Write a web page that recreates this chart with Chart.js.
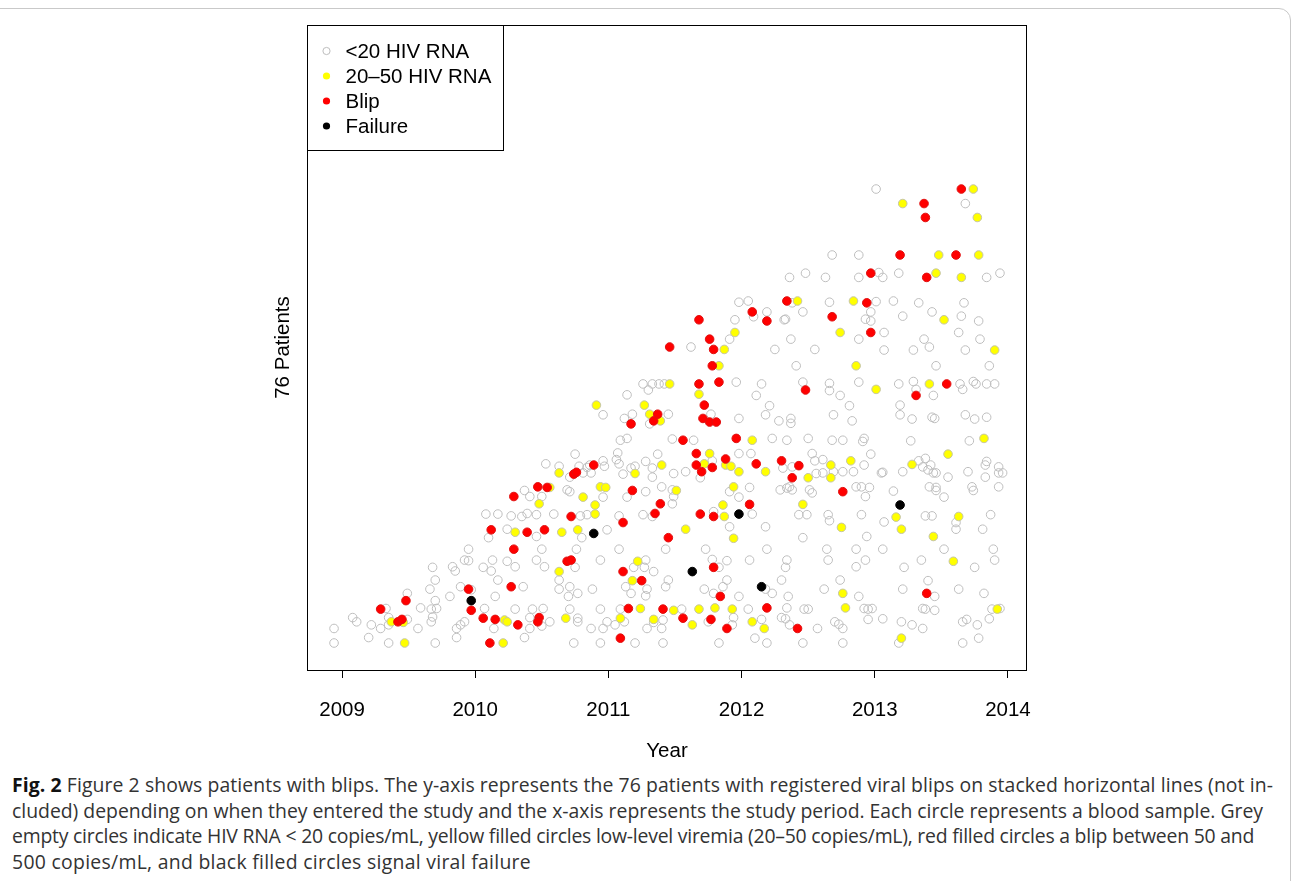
<!DOCTYPE html>
<html>
<head>
<meta charset="utf-8">
<script src="https://cdn.jsdelivr.net/npm/chart.js@4.4.1/dist/chart.umd.min.js"></script>
<style>
  html, body { margin:0; padding:0; background:#fff; }
  body { width:1292px; height:881px; overflow:hidden; position:relative; }
  #frame { position:absolute; left:-14px; top:8px; width:1305px; height:900px; border:1px solid #c9c9c9; border-radius:12px; box-sizing:border-box; }
  #wrap { position:absolute; left:0; top:0; width:1292px; height:770px; }
  #cap { position:absolute; left:12px; top:772px; font-family:"Open Sans", sans-serif; font-size:19.4px; line-height:25.7px; color:#333; white-space:nowrap; }
  #cap span { display:inline-block; }
  #cap b { color:#111; }
</style>
</head>
<body>
<div id="frame"></div>
<div id="wrap"><canvas id="c" width="1292" height="770"></canvas></div>
<div id="cap">
<div><span data-w="1261"><b>Fig. 2</b> Figure 2 shows patients with blips. The y-axis represents the 76 patients with registered viral blips on stacked horizontal lines (not in-</span></div>
<div><span data-w="1251">cluded) depending on when they entered the study and the x-axis represents the study period. Each circle represents a blood sample. Grey</span></div>
<div><span data-w="1242">empty circles indicate HIV RNA &lt; 20 copies/mL, yellow filled circles low-level viremia (20–50 copies/mL), red filled circles a blip between 50 and</span></div>
<div><span data-w="519">500 copies/mL, and black filled circles signal viral failure</span></div>
</div>
<script>
// x = calendar year (decimal), y = patient line (1 = first entered, 76 = last)
const tickYears = [2009, 2010, 2011, 2012, 2013, 2014];

const below20 = [
[2010.08,22.3],[2010.17,22.3],[2010.10,18.4],[2009.95,16.5],[2009.92,14.7],[2009.95,14.6],[2010.13,14.7],[2010.06,13.5],[2010.12,12.9],[2010.17,11.4],
[2009.68,13.5],[2009.83,13.6],[2009.85,12.9],[2009.70,11.4],[2009.66,9.9],[2009.49,9.2],[2009.70,8.0],[2009.81,8.7],[2009.89,10.3],[2009.97,9.8],
[2010.15,8.7],[2010.07,6.7],[2010.14,3.4],[2009.59,6.8],[2009.67,6.6],[2009.71,6.7],[2009.68,5.3],[2009.67,4.5],[2009.33,6.7],[2009.08,5.2],
[2009.11,4.5],[2008.94,3.4],[2008.94,1.0],[2009.20,1.9],[2009.22,4.0],[2009.29,3.4],[2009.35,5.2],[2009.35,4.0],[2009.49,4.9],[2009.57,3.4],
[2009.35,1.0],[2009.70,1.0],[2009.86,1.9],[2009.86,3.4],[2009.89,4.0],[2009.92,4.5],
[2010.24,19.8],[2010.46,18.6],[2010.80,18.4],[2010.99,19.7],[2010.50,16.5],[2010.76,16.5],[2011.08,16.5],[2011.43,16.5],[2010.24,14.5],[2010.30,13.6],
[2010.46,14.7],[2010.52,13.6],[2010.75,13.5],[2010.94,14.7],[2011.28,14.7],[2011.27,13.5],[2011.34,12.8],[2011.19,13.5],[2011.13,10.3],[2011.17,9.2],
[2011.29,9.9],[2011.28,8.8],[2011.45,11.4],[2011.43,10.3],[2010.63,11.4],[2010.63,9.9],[2010.71,10.3],[2010.70,8.7],[2010.77,9.2],[2010.88,9.9],
[2010.36,10.3],[2010.30,6.6],[2010.43,6.6],[2010.51,6.7],[2010.41,5.2],[2010.56,4.5],[2010.41,3.4],[2010.50,3.8],[2010.37,1.9],[2010.71,6.6],
[2010.77,5.1],[2010.77,4.5],[2010.74,1.0],[2010.87,3.4],[2010.94,6.6],[2010.96,3.4],[2010.99,4.5],[2011.05,4.0],[2010.94,1.0],[2011.09,6.6],
[2011.12,4.5],[2011.20,1.0],[2011.29,3.4],[2011.34,4.4],[2011.40,3.4],[2011.41,4.8],[2011.41,1.0],
[2011.26,43.8],[2011.33,43.8],[2011.38,43.8],[2011.42,43.8],[2011.30,42.8],[2011.14,42.0],[2010.96,38.7],[2011.45,38.8],[2011.12,38.1],[2011.18,38.8],
[2011.31,37.2],[2011.09,34.5],[2011.14,34.8],[2011.48,34.7],[2010.75,32.2],[2011.07,32.4],[2011.06,31.3],[2011.08,30.6],[2011.37,32.2],[2010.53,30.6],
[2010.63,30.2],[2010.78,30.2],[2010.84,30.0],[2010.86,30.4],[2010.96,31.1],[2010.97,30.2],[2010.81,29.1],[2010.87,29.1],[2010.71,28.4],[2011.11,28.9],
[2011.17,29.9],[2011.20,30.2],[2011.28,31.0],[2011.33,29.9],[2011.33,28.4],[2011.49,29.0],[2011.40,26.8],[2011.48,26.3],[2011.49,25.2],[2011.28,26.0],
[2011.14,25.1],[2010.27,22.0],[2010.35,21.9],[2010.39,22.4],[2010.46,22.2],[2010.59,22.3],[2010.79,22.0],[2010.84,22.2],[2011.08,22.0],[2011.26,22.2],
[2011.33,21.9],[2011.48,24.0],[2010.37,26.2],[2010.41,25.2],[2010.50,25.2],[2010.69,26.3],[2010.71,26.0],[2010.96,25.1],
[2012.68,65.1],[2012.88,65.1],[2012.36,61.4],[2012.48,62.1],[2012.63,61.4],[2012.88,61.4],[2011.98,57.3],[2012.05,57.5],[2012.38,57.2],[2012.66,57.3],
[2012.09,54.9],[2012.19,55.7],[2012.46,55.7],[2011.95,54.4],[2012.32,54.4],[2012.33,54.5],[2011.91,51.2],[2012.37,51.2],[2012.88,51.2],[2011.62,49.9],
[2012.25,49.5],[2012.55,49.5],[2012.41,46.8],[2011.96,44.1],[2012.15,43.8],[2012.46,44.1],[2012.66,43.9],[2012.88,44.1],
[2012.11,41.9],[2012.66,42.7],[2012.74,41.9],[2012.81,40.2],[2012.21,40.2],[2012.18,38.7],[2012.28,37.7],[2012.37,38.1],[2012.37,37.3],[2012.69,38.7],
[2012.83,37.7],[2011.77,38.8],[2011.98,38.1],[2011.64,34.5],[2012.23,34.8],[2012.34,34.5],[2012.50,34.8],[2012.68,34.5],[2012.76,34.5],[2011.98,32.3],
[2012.07,32.3],[2011.78,31.1],[2011.58,29.3],[2011.69,28.3],[2012.31,29.9],[2012.38,30.1],[2012.53,32.3],[2012.55,31.1],[2012.61,31.3],[2012.56,29.0],
[2012.61,29.1],[2012.69,29.3],[2012.76,29.3],[2012.84,29.3],[2011.91,26.0],[2011.98,25.1],[2012.06,26.7],[2011.79,22.7],[2012.08,22.3],[2011.91,20.2],
[2012.18,20.2],[2012.29,26.3],[2012.34,26.6],[2012.36,26.8],[2012.38,26.3],[2012.51,26.3],[2012.53,25.8],[2012.86,26.8],[2012.43,22.2],[2012.49,22.2],
[2012.65,22.2],[2012.66,21.2],
[2012.46,18.4],[2011.73,16.5],[2012.19,16.5],[2012.64,16.5],[2012.65,14.7],[2012.86,16.5],[2011.78,14.8],[2011.89,14.6],[2011.83,13.5],[2012.06,14.7],
[2012.34,14.7],[2012.33,13.5],[2012.86,13.6],[2011.89,11.4],[2011.86,10.3],[2011.79,9.2],[2011.72,9.9],[2012.18,9.9],[2012.23,9.2],[2012.30,11.4],
[2012.35,8.7],[2012.62,9.9],[2012.74,11.4],[2012.88,8.7],[2011.98,8.7],[2012.05,6.6],[2012.34,6.8],[2012.47,6.6],[2012.50,6.6],[2011.55,6.6],
[2011.75,4.5],[2011.94,5.2],[2011.93,4.0],[2012.15,4.9],[2012.30,5.2],[2012.33,5.0],[2012.36,4.0],[2012.57,3.4],[2012.70,4.5],[2012.73,4.1],
[2012.76,3.4],[2012.10,1.8],[2011.83,1.0],[2012.19,1.0],[2012.46,1.0],[2012.76,1.0],
[2013.01,76.0],[2013.68,73.6],[2013.03,62.2],[2013.06,61.4],[2013.18,62.1],[2013.84,61.4],[2013.94,62.1],
[2013.01,57.4],[2013.14,57.5],[2013.33,57.2],[2013.67,57.2],[2012.97,55.7],[2012.93,54.5],[2012.97,54.2],[2013.21,55.0],[2013.43,55.7],[2013.65,55.0],
[2013.78,54.2],[2013.07,52.3],[2013.37,51.2],[2013.41,49.9],[2013.29,49.4],[2013.07,49.4],[2013.63,52.3],[2013.79,51.2],[2013.68,49.4],[2013.46,46.8],
[2013.86,46.8],[2013.18,43.8],[2013.29,44.2],[2013.31,42.9],[2013.44,41.9],[2013.64,43.8],[2013.66,42.9],[2013.74,44.2],[2013.76,43.8],[2013.84,43.8],
[2013.90,43.8],[2013.19,40.3],[2013.19,38.7],[2013.28,38.0],[2013.43,38.3],[2013.45,38.1],[2013.68,38.7],[2013.75,38.0],[2013.84,38.3],
[2012.92,34.8],[2012.91,34.3],[2013.27,34.4],[2013.71,34.4],[2012.97,32.2],[2012.92,30.4],[2013.33,31.1],[2013.38,31.5],[2013.36,30.1],[2013.42,30.4],
[2013.40,29.6],[2013.44,29.1],[2013.46,29.1],[2013.05,29.1],[2013.06,29.2],[2013.21,29.3],[2013.55,28.4],[2013.70,29.3],[2013.84,31.0],[2013.83,30.4],
[2013.83,28.4],[2013.93,30.1],[2013.93,29.1],[2013.96,29.1],[2012.90,26.8],[2012.96,26.7],[2012.93,25.2],[2013.14,26.1],[2013.41,26.8],[2013.46,26.7],
[2013.46,26.2],[2013.52,25.1],[2013.73,26.8],[2013.74,26.2],[2013.93,26.8],[2013.07,21.0],[2013.38,22.0],[2013.43,22.0],[2013.61,20.9],[2013.61,19.8],
[2013.87,22.2],[2013.81,19.8],[2012.90,22.2],[2012.94,18.6],
[2013.06,16.5],[2013.52,16.5],[2013.89,16.5],[2013.35,14.7],[2012.93,14.7],[2013.22,13.5],[2013.75,13.5],[2013.90,14.7],[2013.40,11.3],[2013.21,9.9],
[2013.45,8.7],[2013.63,9.9],[2013.82,9.2],[2012.92,6.7],[2012.95,6.6],[2012.98,6.7],[2013.36,6.7],[2013.38,6.6],[2013.45,6.4],[2013.88,6.6],
[2013.94,6.7],[2012.95,4.9],[2013.06,5.0],[2013.20,4.5],[2013.28,4.0],[2013.36,3.4],[2013.66,4.5],[2013.69,4.9],[2013.77,4.0],[2013.86,5.0],
[2013.78,1.8],[2013.18,1.0],[2013.66,1.0]
];

const lowLevel = [
[2009.37,4.5],[2009.46,4.4],[2009.47,1.0],[2010.30,19.3],[2010.65,19.3],[2010.77,19.7],[2010.63,12.8],[2011.22,14.5],[2011.18,11.3],[2010.22,4.8],
[2010.24,4.5],[2010.21,1.0],[2010.68,5.1],[2011.09,5.1],[2011.24,6.7],[2011.34,4.9],[2011.49,6.4],[2011.46,43.8],[2010.91,40.3],[2011.27,40.3],
[2011.31,38.8],[2011.39,37.7],[2010.63,29.1],[2011.20,29.0],[2011.40,30.4],[2011.51,26.2],[2010.56,26.7],[2010.48,24.0],[2010.81,25.1],[2010.94,26.8],
[2010.98,26.7],[2010.90,23.8],[2010.90,22.3],[2012.42,57.5],[2012.84,57.5],[2011.95,52.3],[2012.74,52.3],[2011.87,49.5],[2011.83,46.8],[2012.86,46.8],
[2011.68,42.1],[2012.08,34.5],[2011.76,32.3],[2011.72,30.6],[2011.88,30.4],[2011.92,30.2],[2011.98,29.3],[2012.18,29.3],[2012.50,28.3],[2012.67,30.4],
[2012.67,28.3],[2012.82,31.1],[2011.94,26.8],[2011.86,23.8],[2011.87,21.9],[2012.46,23.9],[2012.75,20.1],[2011.58,19.8],[2011.94,18.3],[2012.76,9.2],
[2011.68,6.6],[2011.80,6.8],[2011.93,6.6],[2012.78,6.8],[2011.63,4.0],[2012.08,4.5],[2012.17,3.4],[2013.74,76.0],[2013.21,73.6],[2013.77,71.3],
[2013.48,65.1],[2013.78,65.1],[2013.46,62.1],[2013.65,61.4],[2013.52,54.4],[2013.90,49.4],[2013.01,42.9],[2013.41,43.8],[2013.82,34.8],[2013.55,32.2],
[2013.28,30.5],[2013.16,21.8],[2013.20,19.8],[2013.63,21.9],[2013.44,18.6],[2013.59,14.5],[2013.92,6.6],[2013.20,1.8]
];

const blips = [
[2010.12,19.7],[2009.48,8.0],[2009.95,9.9],[2009.97,6.4],[2010.06,5.1],[2010.15,4.9],[2009.29,6.6],[2009.42,4.5],[2009.45,4.9],[2010.11,1.0],
[2010.39,19.3],[2010.52,19.7],[2011.11,20.9],[2011.45,18.4],[2010.29,16.5],[2010.69,14.5],[2010.72,14.7],[2011.11,12.8],[2011.25,11.3],[2010.27,10.3],
[2010.48,5.2],[2010.47,4.5],[2010.32,4.0],[2011.09,1.8],[2011.15,6.7],[2011.41,6.6],[2011.37,38.8],[2011.34,37.7],[2011.17,37.2],[2010.89,30.4],
[2010.74,28.9],[2010.76,29.2],[2011.18,26.2],[2010.72,21.9],[2011.35,22.4],[2011.39,24.0],[2010.29,25.2],[2010.47,26.8],[2010.54,26.7],[2011.46,49.9],
[2012.34,57.5],[2012.08,55.7],[2012.68,54.9],[2011.68,54.4],[2012.19,54.2],[2011.76,51.2],[2011.79,49.5],[2011.78,46.8],[2011.68,43.8],[2011.83,44.1],
[2012.48,42.8],[2011.72,40.3],[2011.71,38.1],[2011.76,37.5],[2011.81,37.5],[2011.56,34.5],[2011.96,34.8],[2011.66,32.3],[2011.66,30.4],[2011.70,29.3],
[2011.78,30.0],[2011.88,31.4],[2012.11,30.6],[2012.30,31.1],[2012.43,30.3],[2012.38,28.3],[2012.76,26.0],[2012.06,23.9],[2011.69,22.3],[2011.79,21.9],
[2011.79,13.5],[2011.84,8.7],[2012.19,6.8],[2011.56,5.1],[2011.77,4.9],[2011.89,3.4],[2012.42,3.4],[2013.65,76.0],[2013.37,73.6],[2013.38,71.3],
[2013.19,65.1],[2013.61,65.1],[2012.97,62.1],[2013.39,61.4],[2012.94,57.2],[2012.97,52.3],[2013.31,41.9],[2013.54,43.8],[2013.39,9.2]
];

const failures = [
[2009.97,8.0],[2010.89,19.1],[2011.98,22.3],[2011.63,12.8],[2012.15,10.3],[2013.19,23.8]
];

const seriesLabels = ['<20 HIV RNA', '20–50 HIV RNA', 'Blip', 'Failure'];
const seriesFill = ['rgba(0,0,0,0)', '#ffff00', '#ff0000', '#000000'];
const seriesEdge = ['#bebebe', '#c4c4a8', '#e01010', '#000000'];

const FONT = '"Liberation Sans", Arial, Helvetica, sans-serif';
Chart.defaults.font.family = FONT;
Chart.defaults.color = '#000';

const toPts = arr => arr.map(p => ({x: p[0], y: p[1]}));
const sets = [below20, lowLevel, blips, failures];

const boxPlugin = {
  id: 'rbox',
  afterDraw(chart) {
    const {ctx, chartArea: a} = chart;
    ctx.save();
    ctx.strokeStyle = '#000';
    ctx.lineWidth = 1;
    const l = Math.round(a.left) + 0.5, t = Math.round(a.top) + 0.5;
    const r = Math.round(a.right) - 0.5, b = Math.round(a.bottom) + 0.5;
    ctx.strokeRect(l, t, r - l, b - t);
    const lw = 196, lh = 125;
    ctx.fillStyle = '#fff';
    ctx.fillRect(l, t, lw, lh);
    ctx.strokeRect(l, t, lw, lh);
    ctx.font = '20.5px ' + FONT;
    ctx.textBaseline = 'middle';
    ctx.textAlign = 'left';
    seriesLabels.forEach((lab, i) => {
      const cy = t + 25.5 + i * 25;
      const cx = l + 19;
      ctx.beginPath();
      ctx.arc(cx, cy, 3.6, 0, Math.PI * 2);
      if (i === 0) { ctx.strokeStyle = '#bebebe'; ctx.lineWidth = 1; ctx.stroke(); }
      else { ctx.fillStyle = seriesFill[i]; ctx.fill(); }
      ctx.fillStyle = '#000';
      ctx.fillText(lab, l + 38, cy + 1);
    });
    ctx.restore();
  }
};

new Chart(document.getElementById('c'), {
  type: 'scatter',
  data: {
    datasets: sets.map((s, i) => ({
      label: seriesLabels[i],
      data: toPts(s),
      order: 3 - i,
      pointRadius: 4.3,
      pointBorderWidth: 1,
      pointBackgroundColor: seriesFill[i],
      pointBorderColor: seriesEdge[i],
      pointHoverRadius: 4.3
    }))
  },
  options: {
    responsive: false,
    animation: false,
    devicePixelRatio: 1,
    events: [],
    layout: { padding: { left: 257, top: 25, right: 265, bottom: 0 } },
    plugins: { legend: { display: false }, tooltip: { enabled: false } },
    scales: {
      x: {
        type: 'linear',
        position: 'bottom',
        min: 2008.737,
        max: 2014.143,
        afterFit: s => { s.height = 100; },
        afterBuildTicks: s => { s.ticks = tickYears.map(v => ({ value: v })); },
        grid: { drawOnChartArea: false, drawTicks: true, tickLength: 8, color: '#000', lineWidth: 1 },
        border: { display: false },
        ticks: { autoSkip: false, maxRotation: 0, padding: 20, color: '#000', font: { size: 20.5 }, callback: v => String(v) },
        title: { display: true, text: 'Year', color: '#000', font: { size: 20.5 }, padding: { top: 0, bottom: 6 } }
      },
      y: {
        type: 'linear',
        position: 'left',
        min: -3.46,
        max: 103.1,
        afterFit: s => { s.width = 50; },
        grid: { display: false },
        border: { display: false },
        ticks: { display: false },
        title: { display: true, text: '76 Patients', color: '#000', font: { size: 20.5 }, padding: { top: 13.7, bottom: 0 } }
      }
    }
  },
  plugins: [boxPlugin]
});

// fit each caption line to the width it has in the original figure
document.querySelectorAll('#cap span[data-w]').forEach(sp => {
  const target = parseFloat(sp.dataset.w);
  const w = sp.getBoundingClientRect().width;
  const n = sp.textContent.length;
  if (n > 1) sp.style.letterSpacing = ((target - w) / n).toFixed(3) + 'px';
});
</script>
</body>
</html>
